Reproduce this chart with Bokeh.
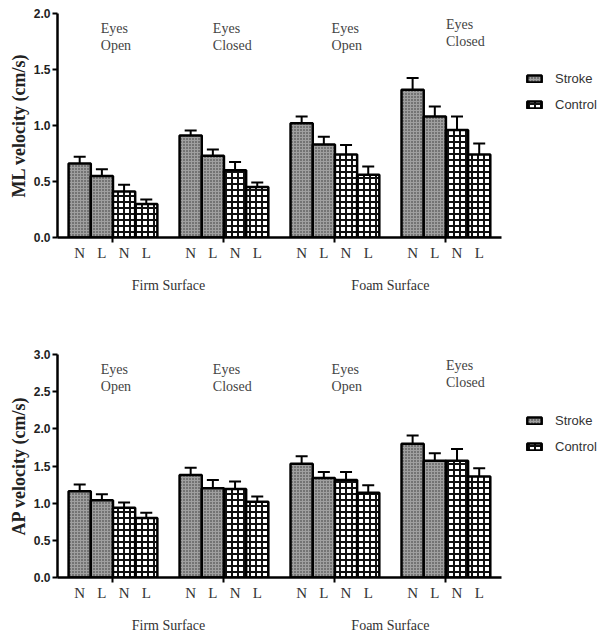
from bokeh.plotting import figure
from bokeh.layouts import column
from bokeh.models import (ColumnDataSource, Whisker, TeeHead, FixedTicker, LinearAxis,
                          NumeralTickFormatter, Range1d, Legend)
from bokeh.core.properties import value
from bokeh.embed import file_html
from bokeh.resources import INLINE

# ---------------- data ----------------
conditions = ["Eyes\nOpen", "Eyes\nClosed", "Eyes\nOpen", "Eyes\nClosed"]
surfaces = ["Firm Surface", "Foam Surface"]
bar_labels = ["N", "L", "N", "L"]
groups = ["Stroke", "Control"]

# values per condition: (N, L)
ml_stroke_mean = [0.66, 0.55, 0.91, 0.73, 1.02, 0.83, 1.32, 1.08]
ml_stroke_sem = [0.06, 0.06, 0.045, 0.055, 0.06, 0.07, 0.105, 0.09]
ml_control_mean = [0.41, 0.30, 0.60, 0.45, 0.74, 0.56, 0.96, 0.74]
ml_control_sem = [0.06, 0.04, 0.075, 0.04, 0.085, 0.075, 0.12, 0.10]

ap_stroke_mean = [1.16, 1.04, 1.38, 1.20, 1.53, 1.34, 1.80, 1.57]
ap_stroke_sem = [0.09, 0.08, 0.095, 0.11, 0.10, 0.08, 0.11, 0.10]
ap_control_mean = [0.94, 0.80, 1.19, 1.02, 1.31, 1.14, 1.57, 1.36]
ap_control_sem = [0.07, 0.07, 0.10, 0.07, 0.11, 0.10, 0.16, 0.11]

ml_ticks = [0.0, 0.5, 1.0, 1.5, 2.0]
ap_ticks = [0.0, 0.5, 1.0, 1.5, 2.0, 2.5, 3.0]

SERIF = "Liberation Serif"
SANS = "Liberation Sans"


def make_panel(ylabel, s_mean, s_sem, c_mean, c_sem, yticks, height, top_b, bottom_b, legend_y):
    ymax = yticks[-1]
    p = figure(width=603, height=height, output_backend="svg", toolbar_location=None,
               x_range=Range1d(0, 24.6), y_range=Range1d(0, ymax),
               min_border_left=57, min_border_right=0,
               min_border_top=top_b, min_border_bottom=bottom_b)
    p.grid.visible = False
    p.outline_line_color = None
    p.background_fill_color = "white"

    s_x = [5 * c + 1 + k for c in range(4) for k in (0, 1)]
    c_x = [5 * c + 3 + k for c in range(4) for k in (0, 1)]
    s_src = ColumnDataSource(dict(x=s_x, top=s_mean, upper=[m + e for m, e in zip(s_mean, s_sem)]))
    c_src = ColumnDataSource(dict(x=c_x, top=c_mean, upper=[m + e for m, e in zip(c_mean, c_sem)]))

    for src in (s_src, c_src):
        w = Whisker(source=src, base="x", lower="top", upper="upper", line_width=2,
                    line_color="black",
                    upper_head=TeeHead(size=12, line_width=2, line_color="black"),
                    lower_head=None)
        p.add_layout(w)

    rs = p.vbar(x="x", top="top", width=1.0, bottom=0, source=s_src,
                fill_color="#747474", line_color="black", line_width=2.5,
                hatch_pattern="+", hatch_color="#a0a0a0", hatch_scale=3, hatch_weight=1)
    rc = p.vbar(x="x", top="top", width=1.0, bottom=0, source=c_src,
                fill_color="white", line_color="black", line_width=2.5,
                hatch_pattern="+", hatch_color="#111111", hatch_scale=6, hatch_weight=2)

    # condition labels
    offsets = [-0.55, -0.5, -0.15, 0.0]
    lifts = [0.0, 0.0, 0.0, 0.018]
    for c, lab in enumerate(conditions):
        p.text(x=[5 * c + 2.5 + offsets[c]], y=[ymax * (0.965 + lifts[c])], text=[lab],
               text_font=value(SERIF), text_font_size="14px", text_color="#444444",
               text_align="left", text_baseline="top", text_line_height=1.1)

    # y axis
    ya = p.yaxis[0]
    ya.ticker = FixedTicker(ticks=yticks)
    ya.formatter = NumeralTickFormatter(format="0.0")
    ya.axis_label = ylabel
    ya.axis_label_text_font = SERIF
    ya.axis_label_text_font_style = "bold"
    ya.axis_label_text_font_size = "18px"
    ya.axis_label_text_color = "#222222"
    ya.axis_label_standoff = 2
    ya.major_label_text_font = SANS
    ya.major_label_text_font_style = "bold"
    ya.major_label_text_font_size = "12px"
    ya.major_label_text_color = "#222222"
    ya.major_label_standoff = 2
    ya.axis_line_width = 2.5
    ya.axis_line_color = "black"
    ya.major_tick_line_width = 2
    ya.major_tick_out = 5
    ya.major_tick_in = 0
    ya.minor_tick_line_color = None

    # x axis: bar labels + group ticks
    xa = p.xaxis[0]
    bar_pos = [5 * c + 1 + k for c in range(4) for k in range(4)]
    xa.ticker = FixedTicker(ticks=bar_pos, minor_ticks=[5 * c + 2.5 for c in range(4)])
    xa.major_label_overrides = {bp: bar_labels[i % 4] for i, bp in enumerate(bar_pos)}
    xa.bounds = (0, 20)
    xa.axis_line_width = 2.5
    xa.axis_line_color = "black"
    xa.major_tick_line_color = None
    xa.major_tick_out = 0
    xa.major_tick_in = 0
    xa.minor_tick_line_color = "black"
    xa.minor_tick_line_width = 2
    xa.minor_tick_out = 5
    xa.minor_tick_in = 0
    xa.major_label_standoff = 2
    xa.major_label_text_font = SERIF
    xa.major_label_text_font_size = "15px"
    xa.major_label_text_color = "#333333"

    xb = LinearAxis(ticker=FixedTicker(ticks=[5, 15]),
                    major_label_overrides={5: surfaces[0], 15: surfaces[1]})
    xb.axis_line_color = None
    xb.major_tick_line_color = None
    xb.minor_tick_line_color = None
    xb.major_tick_out = 0
    xb.major_tick_in = 0
    xb.major_label_standoff = 14
    xb.major_label_text_font = SERIF
    xb.major_label_text_font_size = "14px"
    xb.major_label_text_color = "#333333"
    p.add_layout(xb, "below")

    legend = Legend(items=[(groups[0], [rs]), (groups[1], [rc])], location=(468, legend_y),
                    padding=0, margin=0, spacing=6, border_line_color=None,
                    background_fill_alpha=0, glyph_width=18, glyph_height=9,
                    label_standoff=12, label_height=20,
                    label_text_font=SANS, label_text_font_size="13px",
                    label_text_color="#333333")
    p.add_layout(legend)
    return p


p1 = make_panel("ML velocity (cm/s)", ml_stroke_mean, ml_stroke_sem, ml_control_mean, ml_control_sem,
                ml_ticks, 328, 13, 91, 123)
p2 = make_panel("AP velocity (cm/s)", ap_stroke_mean, ap_stroke_sem, ap_control_mean, ap_control_sem,
                ap_ticks, 307, 26, 58, 121)

layout = column(p1, p2, spacing=0)
open("out.html", "w").write(file_html(layout, INLINE))
